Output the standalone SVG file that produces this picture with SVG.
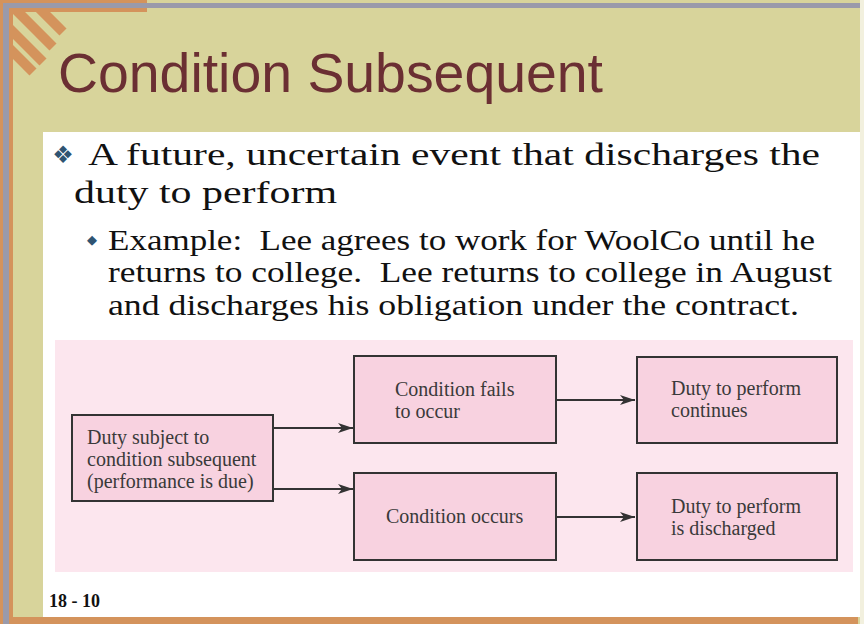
<svg xmlns="http://www.w3.org/2000/svg" width="864" height="624" viewBox="0 0 864 624">
  <style>
    .body { font-family: "Liberation Serif", "Times New Roman", serif; fill: #111; white-space: pre; }
    .box { fill: #F8D2E0; stroke: #333; stroke-width: 2; }
    .lbl { font-family: "Liberation Serif", "Times New Roman", serif; font-size: 20px; fill: #3a3a3a; }
    .conn { stroke: #333; stroke-width: 2; fill: none; }
    .stripe { stroke: #D4935C; stroke-width: 10; stroke-linecap: butt; }
    .blt { font-family: "DejaVu Sans", sans-serif; fill: #2F5472; }
  </style>
  <defs>
    <marker id="arr" markerUnits="userSpaceOnUse" markerWidth="16" markerHeight="10" refX="15" refY="5" orient="auto">
      <path d="M0,0 L15,5 L0,10 L4,5 z" fill="#333"/>
    </marker>
    <clipPath id="corner">
      <rect x="9" y="8" width="140" height="120"/>
    </clipPath>
  </defs>

  <!-- frame / background -->
  <rect x="0" y="0" width="864" height="624" fill="#D8D49B"/>
  <rect x="860" y="0" width="4" height="624" fill="#F2F0DE"/>
  <rect x="0" y="0" width="147" height="12" fill="#D4935C"/>
  <rect x="0" y="0" width="13" height="624" fill="#D4935C"/>
  <rect x="10" y="617" width="848" height="7" fill="#D4935C"/>
  <rect x="3" y="3" width="857" height="5" fill="#9A9AAA"/>
  <rect x="3" y="3" width="6" height="621" fill="#9A9AAA"/>
  <rect x="43" y="132" width="817" height="485" fill="#FFFFFF"/>
  <g clip-path="url(#corner)">
    <line class="stripe" x1="29" y1="-2" x2="63" y2="32"/>
    <line class="stripe" x1="4" y1="-2" x2="53" y2="47"/>
    <line class="stripe" x1="-1" y1="18" x2="43" y2="62"/>
    <line class="stripe" x1="-1" y1="38" x2="33" y2="72"/>
  </g>

  <!-- title -->
  <text x="58" y="92" font-family="'Liberation Sans', Arial, sans-serif" font-size="56" fill="#6B2F33" textLength="545" lengthAdjust="spacingAndGlyphs">Condition Subsequent</text>

  <!-- bullets and body text -->
  <text class="blt" x="63" y="163" font-size="24" text-anchor="middle">❖</text>
  <text class="body" x="88" y="165" font-size="32" textLength="732" lengthAdjust="spacingAndGlyphs">A future, uncertain event that discharges the</text>
  <text class="body" x="74" y="203" font-size="32" textLength="263" lengthAdjust="spacingAndGlyphs">duty to perform</text>
  <text class="blt" x="92" y="244" font-size="13" text-anchor="middle">◆</text>
  <text class="body" x="108" y="250" font-size="29" xml:space="preserve" textLength="707" lengthAdjust="spacingAndGlyphs">Example:  Lee agrees to work for WoolCo until he</text>
  <text class="body" x="108" y="282" font-size="29" xml:space="preserve" textLength="724" lengthAdjust="spacingAndGlyphs">returns to college.  Lee returns to college in August</text>
  <text class="body" x="108" y="315" font-size="29" textLength="691" lengthAdjust="spacingAndGlyphs">and discharges his obligation under the contract.</text>

  <!-- diagram background -->
  <rect x="55" y="340" width="798" height="232" fill="#FCE6EE"/>

  <!-- connectors -->
  <g id="connectors">
    <line class="conn" x1="273" y1="428" x2="353" y2="428" marker-end="url(#arr)"/>
    <line class="conn" x1="273" y1="489" x2="353" y2="489" marker-end="url(#arr)"/>
    <line class="conn" x1="556" y1="400" x2="635" y2="400" marker-end="url(#arr)"/>
    <line class="conn" x1="556" y1="517" x2="635" y2="517" marker-end="url(#arr)"/>
  </g>

  <!-- nodes -->
  <g id="node-duty-subject">
    <rect class="box" x="72" y="415" width="201" height="86"/>
    <text class="lbl" x="87" y="444">Duty subject to</text>
    <text class="lbl" x="87" y="466">condition subsequent</text>
    <text class="lbl" x="87" y="488">(performance is due)</text>
  </g>
  <g id="node-fails">
    <rect class="box" x="354" y="356" width="202" height="87"/>
    <text class="lbl" x="395" y="396">Condition fails</text>
    <text class="lbl" x="395" y="418">to occur</text>
  </g>
  <g id="node-occurs">
    <rect class="box" x="354" y="473" width="202" height="87"/>
    <text class="lbl" x="386" y="523">Condition occurs</text>
  </g>
  <g id="node-continues">
    <rect class="box" x="637" y="357" width="200" height="86"/>
    <text class="lbl" x="671" y="395">Duty to perform</text>
    <text class="lbl" x="671" y="417">continues</text>
  </g>
  <g id="node-discharged">
    <rect class="box" x="637" y="473" width="200" height="87"/>
    <text class="lbl" x="671" y="513">Duty to perform</text>
    <text class="lbl" x="671" y="535">is discharged</text>
  </g>

  <!-- page number -->
  <text x="49" y="607" font-family="'Liberation Serif', 'Times New Roman', serif" font-size="18" font-weight="bold" fill="#111">18 - 10</text>
</svg>
